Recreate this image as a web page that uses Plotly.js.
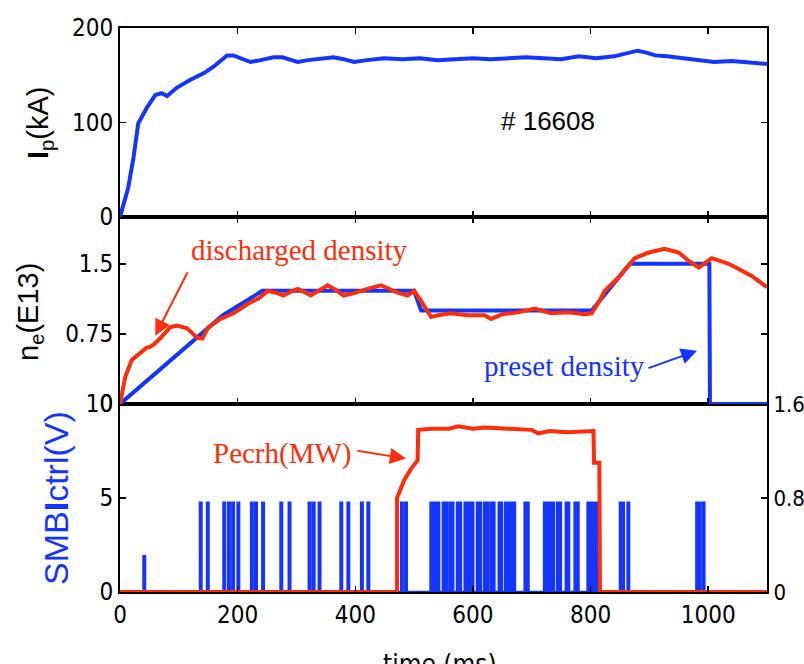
<!DOCTYPE html>
<html>
<head>
<meta charset="utf-8">
<script src="https://cdn.plot.ly/plotly-3.0.1.min.js"></script>
<style>html,body{margin:0;padding:0;background:#fff;}#chart{width:804px;height:664px;}</style>
</head>
<body>
<div id="chart"></div>
<script>
// ---- Data ----
// Top panel: plasma current Ip (kA) vs time (ms)
const ipTime = [0,14,23,31,46,60,71,80,97,119,142,159,182,193,205,222,239,261,276,290,302,320,340,363,380,398,420,449,480,510,540,570,600,630,660,690,720,750,780,810,840,860,880,895,910,930,960,990,1010,1040,1070,1100];
const ipValue = [0,31,63,99,116,129,131,128,137,145,152,159,171,171,168,164,166,169,169,166,164,166,167,169,167,164,166,168,167,168,166,167,168,167,168,169,168,167,170,168,170,173,176,174,171,170,168,165,164,165,163,162];

// Middle panel: preset density (blue) and discharged density (red), E13
const presetTime = [0,68,137,175,242,500,512,802,867,1002,1003,1100];
const presetValue = [0,0.37,0.74,0.95,1.21,1.21,1.0,1.0,1.5,1.5,0,0];
const measTime = [0,9,20,34,45,51,58,68,85,97,114,131,140,150,171,193,217,236,251,265,278,290,302,313,324,340,353,367,380,395,409,425,444,458,472,489,500,512,529,541,563,590,620,631,650,677,705,733,762,790,802,814,824,847,875,899,926,950,967,984,1006,1035,1074,1100];
const measValue = [0,0.29,0.47,0.55,0.6,0.61,0.64,0.70,0.82,0.84,0.81,0.71,0.70,0.82,0.91,0.97,1.07,1.13,1.21,1.19,1.16,1.2,1.23,1.2,1.16,1.22,1.27,1.22,1.16,1.18,1.21,1.24,1.27,1.23,1.19,1.16,1.21,1.1,0.93,0.95,0.97,0.95,0.95,0.91,0.96,0.98,1.02,0.97,0.98,0.96,0.97,1.09,1.21,1.35,1.56,1.62,1.66,1.62,1.53,1.46,1.56,1.5,1.37,1.25];

// Bottom panel: SMBI control pulses (V) and ECRH power (MW)
const smbiPulseTimes = [40,136,148,176,184,191,200,223,230,242,273,287,321,328,338,375,387,410,421,478,485,528,532,536,540,549,553,560,564,573,577,586,589,594,598,607,611,619,623,630,634,644,647,655,659,665,669,688,692,721,725,731,735,743,747,758,761,773,777,795,799,803,808,812,850,854,863,980,984,991];
const smbiPulseHeights = [1.9,4.75,4.75,4.75,4.75,4.75,4.75,4.75,4.75,4.75,4.75,4.75,4.75,4.75,4.75,4.75,4.75,4.75,4.75,4.75,4.75,4.75,4.75,4.75,4.75,4.75,4.75,4.75,4.75,4.75,4.75,4.75,4.75,4.75,4.75,4.75,4.75,4.75,4.75,4.75,4.75,4.75,4.75,4.75,4.75,4.75,4.75,4.75,4.75,4.75,4.75,4.75,4.75,4.75,4.75,4.75,4.75,4.75,4.75,4.75,4.75,4.75,4.75,4.75,4.75,4.75,4.75,4.75,4.75,4.75];
const pulseWidthMs = 2.5;
const ecrhTime = [0,471,471,483,495,506,507,530,560,575,600,620,660,700,711,730,760,790,805,806,815,816,1100];
const ecrhValue = [0,0,0.8,0.95,1.05,1.12,1.38,1.39,1.39,1.41,1.39,1.40,1.39,1.38,1.35,1.37,1.36,1.37,1.37,1.10,1.10,0,0];

// Tick labels
const xTicks = [0,200,400,600,800,1000];
const ipTicks = [0,100,200];
const neTickVals = [0,0.75,1.5];
const neTickText = ['0','0.75','1.5'];
const smbiTicks = [0,5,10];
const ecrhTickVals = [0,0.8,1.6];
const ecrhTickText = ['0','0.8','1.6'];

// ---- Build pulse trace from pulse list ----
const smbiX = [0], smbiY = [0];
smbiPulseTimes.forEach((p,i)=>{
  smbiX.push(p,p,p+pulseWidthMs,p+pulseWidthMs);
  smbiY.push(0,smbiPulseHeights[i],smbiPulseHeights[i],0);
});
smbiX.push(1100); smbiY.push(0);

const BLUE = '#1434ff';
const RED = '#ff2d0a';
const narrow = "'Liberation Sans Narrow', 'DejaVu Sans Condensed', 'Liberation Sans', Arial, sans-serif";
const sans = "'Liberation Sans', Arial, sans-serif";
const serif = "'Liberation Serif', 'Times New Roman', serif";
const tickFont = {family: narrow, size: 24, color: '#000'};

const traces = [
  {x: ipTime, y: ipValue, xaxis: 'x3', yaxis: 'y3', mode: 'lines', line: {color: BLUE, width: 4}},
  {x: presetTime, y: presetValue, xaxis: 'x2', yaxis: 'y2', mode: 'lines', line: {color: BLUE, width: 4}},
  {x: measTime, y: measValue, xaxis: 'x2', yaxis: 'y2', mode: 'lines', line: {color: RED, width: 4}},
  {x: smbiX, y: smbiY, xaxis: 'x', yaxis: 'y', mode: 'lines', line: {color: BLUE, width: 2.5}},
  {x: ecrhTime, y: ecrhValue, xaxis: 'x', yaxis: 'y4', mode: 'lines', line: {color: RED, width: 4}}
];

const xCommon = {range: [0,1100], tickvals: xTicks, ticks: 'inside', ticklen: 6, tickwidth: 1.5, tickcolor: '#000',
  showline: true, linecolor: '#000', linewidth: 2, showgrid: false, zeroline: false, tickfont: tickFont};
const yCommon = {ticks: 'inside', ticklen: 6, tickwidth: 1.5, tickcolor: '#000', showline: true, linecolor: '#000',
  linewidth: 2, showgrid: false, zeroline: false, tickfont: tickFont};

const P = (px)=> (592 - px) / 564;      // paper y from pixel
const Q = (px)=> (px - 120) / 647;      // paper x from pixel

const layout = {
  width: 804, height: 664,
  margin: {l: 120, r: 37, t: 28, b: 72},
  paper_bgcolor: '#fff', plot_bgcolor: '#fff',
  showlegend: false,
  xaxis: Object.assign({}, xCommon, {anchor: 'y', mirror: true}),
  xaxis2: Object.assign({}, xCommon, {anchor: 'y2', mirror: 'ticks', showticklabels: false, matches: 'x'}),
  xaxis3: Object.assign({}, xCommon, {anchor: 'y3', mirror: 'ticks', showticklabels: false, matches: 'x'}),
  yaxis: Object.assign({}, yCommon, {domain: [0, 0.3333], range: [0,10], tickvals: smbiTicks, mirror: true}),
  yaxis2: Object.assign({}, yCommon, {domain: [0.3333, 0.6649], range: [0,2], tickvals: neTickVals, ticktext: neTickText, mirror: 'ticks'}),
  yaxis3: Object.assign({}, yCommon, {domain: [0.6649, 1], range: [0,200], tickvals: ipTicks, mirror: 'ticks'}),
  yaxis4: Object.assign({}, yCommon, {overlaying: 'y', side: 'right', anchor: 'x', range: [0,1.6], tickvals: ecrhTickVals, ticktext: ecrhTickText,
    tickfont: {family: narrow, size: 22, color: '#000'}}),
  annotations: [
    {xref: 'paper', yref: 'paper', x: Q(40), y: P(123), text: '<b>I</b><sub>p</sub>(kA)', textangle: -90, showarrow: false,
      font: {family: sans, size: 29, color: '#000'}, xanchor: 'center', yanchor: 'middle'},
    {xref: 'paper', yref: 'paper', x: Q(30), y: P(312), text: 'n<sub>e</sub>(E13)', textangle: -90, showarrow: false,
      font: {family: sans, size: 29, color: '#000'}, xanchor: 'center', yanchor: 'middle'},
    {xref: 'paper', yref: 'paper', x: Q(56), y: P(498), text: 'SMB<b>I</b>ctrl(V)', textangle: -90, showarrow: false,
      font: {family: sans, size: 34, color: BLUE}, xanchor: 'center', yanchor: 'middle'},
    {xref: 'paper', yref: 'paper', x: Q(440), y: P(647), text: 'time (ms)', showarrow: false,
      font: {family: narrow, size: 26, color: '#000'}, xanchor: 'center', yanchor: 'top'},
    {xref: 'paper', yref: 'paper', x: Q(548), y: P(121), text: '# 16608', showarrow: false,
      font: {family: sans, size: 26, color: '#000'}, xanchor: 'center', yanchor: 'middle'},
    {xref: 'paper', yref: 'paper', x: Q(299), y: P(250), text: 'discharged density', showarrow: false,
      font: {family: serif, size: 29, color: RED}, xanchor: 'center', yanchor: 'middle'},
    {xref: 'x2', yref: 'y2', x: 60, y: 0.73, ax: 33, ay: -65, text: '', showarrow: true,
      arrowhead: 2, arrowsize: 1.6, arrowwidth: 2, arrowcolor: RED},
    {xref: 'paper', yref: 'paper', x: Q(564), y: P(366), text: 'preset density', showarrow: false,
      font: {family: serif, size: 29, color: BLUE}, xanchor: 'center', yanchor: 'middle'},
    {xref: 'x2', yref: 'y2', x: 981, y: 0.57, ax: -50, ay: 18, text: '', showarrow: true,
      arrowhead: 2, arrowsize: 1.6, arrowwidth: 2, arrowcolor: BLUE},
    {xref: 'paper', yref: 'paper', x: Q(282), y: P(453), text: 'Pecrh(MW)', showarrow: false,
      font: {family: serif, size: 29, color: RED}, xanchor: 'center', yanchor: 'middle'},
    {xref: 'x', yref: 'y', x: 486, y: 7.1, ax: -50, ay: -8, text: '', showarrow: true,
      arrowhead: 2, arrowsize: 1.6, arrowwidth: 2, arrowcolor: RED}
  ]
};

Plotly.newPlot('chart', traces, layout, {staticPlot: true, displayModeBar: false});
</script>
</body>
</html>
